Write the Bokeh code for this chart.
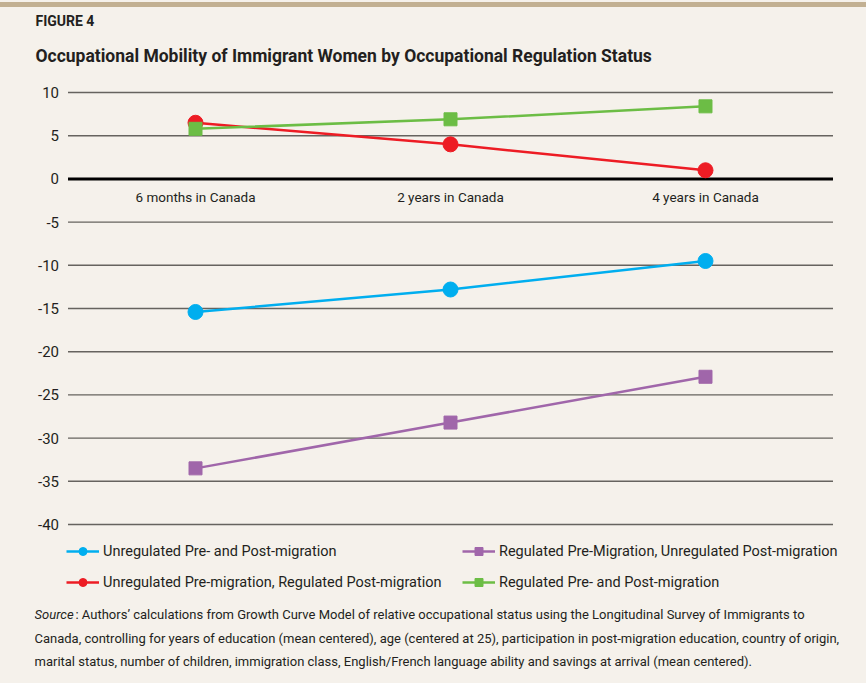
from bokeh.plotting import figure
from bokeh.models import (FactorRange, Range1d, FixedTicker, Label, Legend, LegendItem,
                          LinearAxis, CategoricalAxis)
from bokeh.embed import file_html
from bokeh.resources import INLINE

# ---------------- data ----------------
categories = ["6 months in Canada", "2 years in Canada", "4 years in Canada"]
unreg_pre_post = [-15.4, -12.8, -9.5]            # blue
unreg_pre_reg_post = [6.5, 4.0, 1.0]             # red
reg_pre_unreg_post = [-33.5, -28.2, -22.9]       # purple
reg_pre_post = [5.8, 6.9, 8.4]                   # green
y_ticks = [10, 5, 0, -5, -10, -15, -20, -25, -30, -35, -40]
y_tick_labels = ["10", "5", "0", "-5", "-10", "-15", "-20", "-25", "-30", "-35", "-40"]

series_names = ["Unregulated Pre- and Post-migration",
                "Unregulated Pre-migration, Regulated Post-migration",
                "Regulated Pre-Migration, Unregulated Post-migration",
                "Regulated Pre- and Post-migration"]

title_text = "Occupational Mobility of Immigrant Women by Occupational Regulation Status"
figure_text = "FIGURE 4"
source_head = "Source"
source_lines = [
    ": Authors\u2019 calculations from Growth Curve Model of relative occupational status using the Longitudinal Survey of Immigrants to",
    "Canada, controlling for years of education (mean centered), age (centered at 25), participation in post-migration education, country of origin,",
    "marital status, number of children, immigration class, English/French language ability and savings at arrival (mean centered).",
]

BG = "#f5f1eb"
TXT = "#231f20"
FONT = "Roboto"

W, H = 866, 683
ML = 34          # frame starts at x 34

p = figure(width=W, height=H,
           x_range=FactorRange(*categories, range_padding=0.1314, range_padding_units="absolute"),
           y_range=Range1d(-58.40, 20.65), output_backend="svg", toolbar_location=None,
           min_border_left=ML, min_border_right=0, min_border_top=0, min_border_bottom=0,
           x_axis_location=None, y_axis_location=None)
p.background_fill_color = BG
p.border_fill_color = BG
p.outline_line_color = None
p.xgrid.visible = False
p.ygrid.visible = False

# y axis drawn at the left edge of the first category band
yax = LinearAxis(ticker=FixedTicker(ticks=y_ticks), fixed_location=0)
yax.major_label_overrides = {t: l for t, l in zip(y_ticks, y_tick_labels)}
yax.axis_line_color = None
yax.major_tick_line_color = None
yax.minor_tick_line_color = None
yax.major_tick_out = 0
yax.major_tick_in = 0
yax.major_label_standoff = 9
yax.major_label_text_font = FONT
yax.major_label_text_font_size = "15px"
yax.major_label_text_color = TXT
p.add_layout(yax, "left")

# category axis drawn at y = 0
xax = CategoricalAxis(fixed_location=0)
xax.axis_line_color = None
xax.major_tick_line_color = None
xax.minor_tick_line_color = None
xax.major_tick_out = 0
xax.major_tick_in = 0
xax.major_label_standoff = 10
xax.major_label_text_font = FONT
xax.major_label_text_font_size = "13.5px"
xax.major_label_text_color = TXT
p.add_layout(xax, "below")

# horizontal grid lines spanning the category bands
grid_y = [t for t in y_ticks if t != 0]
p.segment(x0=[0] * len(grid_y), x1=[len(categories)] * len(grid_y), y0=grid_y, y1=grid_y,
          line_color="#66635f", line_width=1.4)
p.segment(x0=[0], x1=[len(categories)], y0=[0], y1=[0], line_color="#000000", line_width=3)

colors = ["#00aeef", "#ed1c24", "#a066aa", "#6cbd45"]
data = [unreg_pre_post, unreg_pre_reg_post, reg_pre_unreg_post, reg_pre_post]
markers = ["circle", "circle", "square", "square"]
renderers = []
for vals, c, m in zip(data, colors, markers):
    l = p.line(categories, vals, line_color=c, line_width=2.5)
    s = p.scatter(categories, vals, marker=m, size=(15 if m == "circle" else 13),
                  fill_color=c, line_color=c)
    renderers.append([l, s])

# ---------------- legend & texts (frame-relative screen coords) ----------------
FL, FB = 34, 683  # coords of frame left / bottom

order = [0, 2, 1, 3]
items = [LegendItem(label=series_names[i], renderers=renderers[i]) for i in order]
legend = Legend(items=items, orientation="horizontal", ncols=2,
                location=(66 - FL, FB - 592), padding=0, margin=0, spacing=11,
                glyph_width=33, glyph_height=20, label_height=20, label_width=348,
                label_standoff=4, border_line_color=None, background_fill_alpha=0,
                label_text_font=FONT, label_text_font_size="14.5px", label_text_color=TXT)
p.add_layout(legend, "center")


def lab(text, px, py, size, style="normal"):
    p.add_layout(Label(x=px - FL, y=FB - py, x_units="screen", y_units="screen", text=text,
                       text_font=FONT, text_font_size=size, text_color=TXT,
                       text_baseline="middle", text_align="left", text_font_style=style))


lab(figure_text, 35, 20.5, "14px", "bold")
lab(title_text, 35, 55, "17.5px", "bold")
lab(source_head, 34, 614, "13px", "italic")
lab(source_lines[0], 75, 614, "13px")
lab(source_lines[1], 34, 638, "13px")
lab(source_lines[2], 34, 661, "13px")

html = file_html(p, INLINE)
css = ("<style>body{background:%s;}"
       "body::before{content:'';position:absolute;left:0;right:0;top:2px;height:5px;"
       "background:#c2b092;z-index:10;}</style>") % BG
html = html.replace("<head>", "<head>" + css, 1)
open("out.html", "w").write(html)
